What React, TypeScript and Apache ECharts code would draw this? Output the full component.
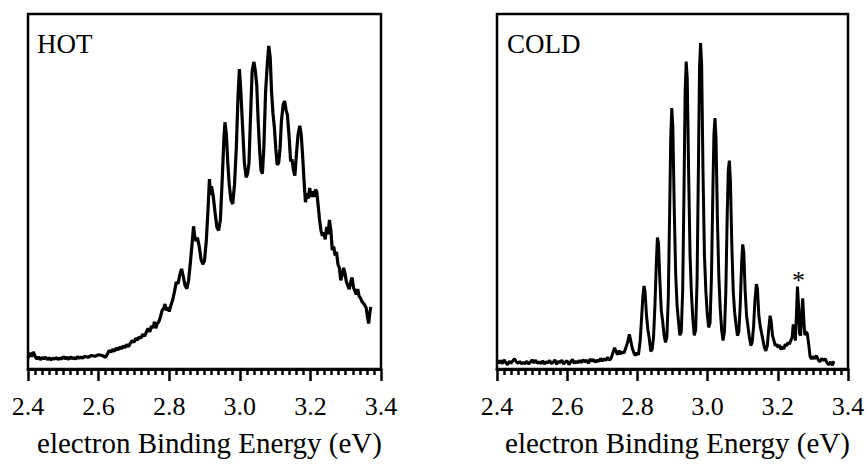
import React, { useEffect, useRef } from "react";
import * as echarts from "echarts";

// ---- Data ----
const panelLabels = ["HOT", "COLD"];
const xTicks = [2.4, 2.6, 2.8, 3.0, 3.2, 3.4];
const xAxisTitle = "electron Binding Energy (eV)";

const hotEnergy = [
  2.400, 2.405, 2.410, 2.415, 2.420, 2.425, 2.430, 2.435, 2.440, 2.445, 2.450, 2.455, 2.460, 2.465, 2.470, 2.475,
  2.480, 2.485, 2.490, 2.495, 2.500, 2.505, 2.510, 2.515, 2.520, 2.525, 2.530, 2.535, 2.540, 2.545, 2.550, 2.555,
  2.560, 2.570, 2.580, 2.590, 2.600, 2.610, 2.620, 2.625, 2.630, 2.635, 2.640, 2.645, 2.650, 2.655, 2.660, 2.665,
  2.670, 2.675, 2.680, 2.685, 2.690, 2.695, 2.700, 2.705, 2.710, 2.715, 2.720, 2.725, 2.730, 2.735, 2.740, 2.745,
  2.750, 2.755, 2.758, 2.762, 2.766, 2.770, 2.775, 2.780, 2.785, 2.788, 2.792, 2.796, 2.800, 2.805, 2.810, 2.815,
  2.820, 2.825, 2.830, 2.835, 2.840, 2.845, 2.850, 2.855, 2.860, 2.865, 2.869, 2.872, 2.876, 2.880, 2.885, 2.890,
  2.895, 2.900, 2.905, 2.910, 2.914, 2.917, 2.920, 2.925, 2.930, 2.935, 2.940, 2.945, 2.950, 2.955, 2.958, 2.962,
  2.966, 2.970, 2.975, 2.980, 2.985, 2.990, 2.995, 2.999, 3.003, 3.008, 3.013, 3.018, 3.022, 3.026, 3.030, 3.035,
  3.040, 3.044, 3.048, 3.052, 3.056, 3.060, 3.064, 3.068, 3.073, 3.078, 3.082, 3.086, 3.090, 3.094, 3.098, 3.102,
  3.106, 3.110, 3.114, 3.118, 3.123, 3.127, 3.131, 3.135, 3.140, 3.144, 3.148, 3.152, 3.156, 3.160, 3.165, 3.170,
  3.174, 3.178, 3.182, 3.186, 3.190, 3.194, 3.198, 3.202, 3.206, 3.210, 3.214, 3.218, 3.222, 3.226, 3.230, 3.234,
  3.238, 3.242, 3.246, 3.250, 3.254, 3.258, 3.262, 3.266, 3.270, 3.274, 3.278, 3.282, 3.286, 3.290, 3.294, 3.298,
  3.302, 3.306, 3.310, 3.314, 3.318, 3.322, 3.326, 3.330, 3.334, 3.338, 3.342, 3.346, 3.350, 3.354, 3.358, 3.362,
  3.365, 3.368, 3.371,
];
const hotSignal = [
  3.0, 4.5, 3.5, 4.8, 3.6, 2.8, 3.4, 2.6, 3.2, 2.9, 3.3, 2.7, 3.1, 2.6, 3.0, 2.8,
  3.2, 2.7, 3.1, 2.8, 3.5, 2.9, 3.3, 2.7, 3.4, 2.9, 3.2, 2.8, 3.5, 3.0, 3.4, 3.0,
  3.6, 3.3, 3.8, 3.6, 4.0, 3.8, 3.3, 4.2, 5.2, 4.8, 5.5, 5.0, 5.9, 5.4, 6.2, 5.7,
  6.5, 6.0, 6.9, 6.3, 7.3, 8.0, 7.5, 8.6, 8.2, 9.0, 8.7, 9.8, 9.2, 10.3, 11.4, 10.5,
  12.1, 11.6, 13.3, 11.5, 12.8, 13.2, 14.6, 16.5, 17.2, 18.3, 16.5, 17.4, 16.2, 18.0, 19.5, 21.8,
  24.5, 24.0, 26.5, 28.2, 26.0, 23.5, 22.6, 25.0, 30.0, 35.5, 40.2, 37.5, 36.0, 37.0, 34.5, 31.0,
  29.5, 30.5, 36.0, 45.0, 53.5, 49.0, 51.5, 48.5, 44.0, 40.0, 39.0, 42.0, 53.0, 65.0, 69.5, 66.0,
  58.0, 52.0, 47.5, 46.5, 52.0, 62.0, 77.0, 84.5, 78.0, 68.0, 58.0, 54.0, 55.0, 58.0, 70.0, 84.0,
  86.5, 84.0, 80.0, 70.0, 62.0, 56.0, 55.0, 62.0, 78.0, 86.0, 91.0, 88.0, 78.0, 72.0, 68.0, 62.0,
  57.5, 58.0, 62.0, 70.0, 74.5, 75.5, 73.0, 71.5, 65.0, 58.5, 59.0, 56.0, 54.5, 60.0, 66.0, 68.5,
  66.0, 60.0, 53.0, 47.0, 49.5, 48.0, 51.0, 48.5, 50.0, 48.5, 50.5, 50.0, 46.0, 42.0, 39.0, 37.5,
  38.5, 36.5, 40.0, 38.0, 42.0, 39.0, 33.5, 34.5, 32.0, 33.0, 29.5, 28.5, 25.0, 26.5, 28.5, 27.0,
  24.5, 23.5, 22.5, 24.5, 25.8, 23.0, 22.0, 21.0, 22.5, 20.5, 20.0, 19.0, 18.5, 18.0, 17.2, 14.5,
  12.8, 15.5, 17.5,
];

const coldEnergy = [
  2.400, 2.405, 2.410, 2.415, 2.420, 2.425, 2.430, 2.435, 2.440, 2.445, 2.450, 2.455, 2.460, 2.465, 2.470, 2.475,
  2.480, 2.485, 2.490, 2.495, 2.500, 2.505, 2.510, 2.515, 2.520, 2.525, 2.530, 2.535, 2.540, 2.545, 2.550, 2.555,
  2.560, 2.565, 2.570, 2.575, 2.580, 2.585, 2.590, 2.595, 2.600, 2.605, 2.610, 2.615, 2.620, 2.625, 2.630, 2.635,
  2.640, 2.645, 2.650, 2.655, 2.660, 2.665, 2.670, 2.675, 2.680, 2.685, 2.690, 2.695, 2.700, 2.705, 2.710, 2.715,
  2.720, 2.725, 2.730, 2.735, 2.739, 2.743, 2.748, 2.752, 2.757, 2.762, 2.767, 2.772, 2.777, 2.781, 2.785, 2.790,
  2.794, 2.798, 2.803, 2.808, 2.812, 2.816, 2.819, 2.822, 2.826, 2.830, 2.834, 2.838, 2.842, 2.846, 2.850, 2.854,
  2.857, 2.860, 2.864, 2.868, 2.872, 2.876, 2.880, 2.884, 2.888, 2.892, 2.895, 2.898, 2.901, 2.905, 2.909, 2.913,
  2.917, 2.921, 2.925, 2.929, 2.933, 2.936, 2.939, 2.942, 2.946, 2.950, 2.954, 2.958, 2.962, 2.966, 2.970, 2.974,
  2.977, 2.980, 2.983, 2.987, 2.991, 2.995, 2.999, 3.003, 3.007, 3.011, 3.015, 3.018, 3.021, 3.024, 3.028, 3.032,
  3.036, 3.040, 3.044, 3.048, 3.052, 3.056, 3.059, 3.062, 3.065, 3.069, 3.073, 3.077, 3.081, 3.085, 3.089, 3.093,
  3.097, 3.100, 3.103, 3.107, 3.111, 3.115, 3.119, 3.123, 3.127, 3.131, 3.135, 3.139, 3.142, 3.146, 3.150, 3.154,
  3.158, 3.162, 3.166, 3.170, 3.174, 3.178, 3.181, 3.185, 3.189, 3.193, 3.197, 3.201, 3.205, 3.209, 3.213, 3.217,
  3.221, 3.225, 3.229, 3.233, 3.237, 3.241, 3.244, 3.247, 3.250, 3.253, 3.256, 3.259, 3.262, 3.265, 3.268, 3.271,
  3.274, 3.277, 3.280, 3.284, 3.288, 3.292, 3.296, 3.300, 3.305, 3.310, 3.315, 3.320, 3.325, 3.330, 3.335, 3.340,
  3.345, 3.350, 3.355, 3.360,
];
const coldSignal = [
  2.5, 1.6, 2.4, 1.5, 2.6, 1.8, 1.2, 2.2, 1.6, 2.3, 2.9, 2.0, 1.6, 2.1, 1.5, 1.8,
  1.5, 2.2, 1.4, 1.9, 2.6, 1.7, 2.5, 1.6, 2.0, 1.5, 2.3, 1.4, 2.1, 1.7, 2.4, 1.5,
  1.9, 2.6, 1.3, 2.2, 1.8, 2.5, 1.4, 2.0, 2.3, 1.2, 2.0, 2.7, 1.6, 2.2, 1.7, 2.4,
  1.8, 2.6, 2.0, 2.5, 1.6, 2.8, 2.2, 2.7, 1.9, 2.5, 2.1, 3.0, 2.2, 2.9, 2.4, 3.3,
  2.5, 3.0, 4.5, 6.0, 5.0, 4.0, 5.2, 4.2, 4.8, 4.5, 6.0, 7.5, 9.8, 8.0, 6.0, 4.5,
  3.8, 4.6, 4.0, 8.0, 14.5, 21.0, 23.4, 21.5, 15.0, 11.0, 8.5, 5.0, 5.5, 9.0, 18.0, 30.0,
  37.0, 35.5, 25.0, 16.5, 13.5, 9.5, 7.5, 9.0, 20.0, 45.0, 65.0, 73.5, 68.0, 45.0, 27.0, 18.0,
  13.5, 9.5, 10.5, 22.0, 52.0, 78.0, 86.6, 82.0, 55.0, 32.0, 21.0, 14.0, 9.5, 11.0, 25.0, 58.0,
  85.0, 91.8, 86.0, 55.0, 32.0, 22.0, 15.5, 11.7, 13.0, 26.0, 50.0, 66.0, 70.7, 65.0, 42.0, 26.0,
  17.0, 11.0, 8.0, 10.5, 22.0, 44.0, 56.0, 58.7, 53.0, 35.0, 22.0, 16.0, 12.5, 9.4, 10.5, 18.0,
  30.0, 35.1, 33.0, 22.0, 15.0, 12.0, 9.0, 6.6, 7.5, 12.0, 19.5, 23.9, 22.5, 15.0, 12.0, 10.0,
  8.0, 6.0, 5.1, 6.5, 11.0, 15.0, 13.5, 9.4, 8.0, 6.5, 7.0, 6.0, 6.8, 5.5, 6.3, 5.6,
  7.0, 6.5, 7.5, 7.0, 8.0, 9.0, 12.6, 10.5, 8.0, 15.0, 23.2, 18.0, 10.0, 9.4, 15.5, 19.9,
  14.0, 9.5, 10.5, 10.0, 7.0, 3.5, 2.8, 3.5, 2.9, 3.8, 2.6, 2.0, 3.0, 2.4, 2.9, 1.8,
  1.2, 2.0, 1.0, 2.2,
];

// position of the "*" marker on the COLD spectrum
const asteriskPoint = [3.259, 26.5];

const FONT = '"Liberation Serif"';

function pairs(xs: number[], ys: number[]) {
  return xs.map((x, i) => [x, ys[i]]);
}

export default function App() {
  const ref = useRef<HTMLDivElement>(null);

  useEffect(() => {
    if (!ref.current) return;
    const chart = echarts.init(ref.current, null, { renderer: "svg" });

    const grids = [
      { left: 28, top: 14, width: 353, height: 355 },
      { left: 497, top: 14, width: 351, height: 355 },
    ].map((g) => ({
      ...g,
      show: true,
      borderColor: "#000",
      borderWidth: 2.5,
      backgroundColor: "transparent",
      containLabel: false,
    }));

    const xAxes = [0, 1].map((i) => ({
      type: "value",
      gridIndex: i,
      min: xTicks[0],
      max: xTicks[xTicks.length - 1],
      interval: 0.2,
      axisLine: { show: true, lineStyle: { color: "#000", width: 3 } },
      axisTick: { show: true, length: 12, lineStyle: { color: "#000", width: 2.5 } },
      minorTick: { show: true, splitNumber: 10, length: 6, lineStyle: { color: "#000", width: 2.5 } },
      splitLine: { show: false },
      axisLabel: {
        color: "#000",
        fontFamily: FONT,
        fontSize: 26,
        margin: 24,
        formatter: (v: number) => v.toFixed(1),
      },
      name: xAxisTitle,
      nameLocation: "middle",
      nameGap: 59,
      nameTextStyle: { color: "#000", fontFamily: FONT, fontSize: 29, padding: [0, 0, 0, 10] },
    }));

    const yAxes = [0, 1].map((i) => ({
      type: "value",
      gridIndex: i,
      min: 0,
      max: 100,
      show: false,
    }));

    chart.setOption({
      animation: false,
      backgroundColor: "#fff",
      grid: grids,
      xAxis: xAxes,
      yAxis: yAxes,
      graphic: [
        {
          type: "text",
          left: 37,
          top: 30,
          style: { text: panelLabels[0], fontFamily: FONT, fontSize: 27, fill: "#000" },
        },
        {
          type: "text",
          left: 507,
          top: 30,
          style: { text: panelLabels[1], fontFamily: FONT, fontSize: 27, fill: "#000" },
        },
      ],
      series: [
        {
          type: "line",
          xAxisIndex: 0,
          yAxisIndex: 0,
          data: pairs(hotEnergy, hotSignal),
          showSymbol: false,
          symbol: "none",
          lineStyle: { color: "#000", width: 3.2 },
        },
        {
          type: "line",
          xAxisIndex: 1,
          yAxisIndex: 1,
          data: pairs(coldEnergy, coldSignal),
          showSymbol: false,
          symbol: "none",
          lineStyle: { color: "#000", width: 3 },
          markPoint: {
            symbol: "circle",
            symbolSize: 0,
            data: [{ coord: asteriskPoint }],
            label: {
              show: true,
              position: "inside",
              formatter: "*",
              color: "#000",
              fontFamily: FONT,
              fontSize: 26,
              offset: [0, 6],
            },
          },
        },
      ],
    });

    return () => chart.dispose();
  }, []);

  return (
    <div
      ref={ref}
      style={{ position: "fixed", left: 0, top: 0, width: 868, height: 468, background: "#fff" }}
    />
  );
}
